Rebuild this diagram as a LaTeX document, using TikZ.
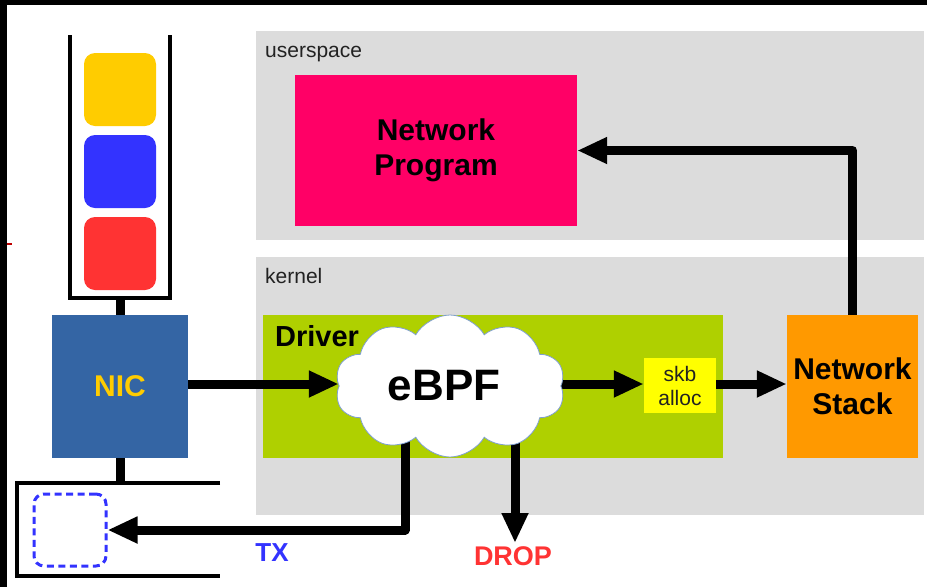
\documentclass[tikz,border=0pt]{standalone}
\usepackage{fontspec}
\setmainfont{Liberation Sans}
\usetikzlibrary{arrows.meta,shapes.symbols,calc}
\pgfdeclarelayer{panel}
\pgfdeclarelayer{wire}
\pgfsetlayers{panel,wire,main}

\definecolor{panelgray}{HTML}{DCDCDC}
\definecolor{drivergreen}{HTML}{AFD000}
\definecolor{progpink}{HTML}{FF0066}
\definecolor{stackorange}{HTML}{FF9900}
\definecolor{nicblue}{HTML}{3465A4}
\definecolor{nicyellow}{HTML}{FFCC00}
\definecolor{skbyellow}{HTML}{FFFF00}
\definecolor{pktyellow}{HTML}{FFCC00}
\definecolor{pktblue}{HTML}{3333FF}
\definecolor{pktred}{HTML}{FF3333}
\definecolor{cloudline}{HTML}{7F9FCF}
\definecolor{labelgray}{HTML}{222222}

\tikzset{
  block/.style={draw=none, inner sep=0pt, align=center},
  bigtext/.style={font=\fontsize{30}{35}\selectfont\bfseries},
  areatext/.style={font=\fontsize{21}{24}\selectfont, text=labelgray, anchor=base west, inner sep=0pt},
  flow/.style={line width=9pt, line join=round, -{Triangle[length=30pt,width=25pt]}},
  rail/.style={line width=4.5pt},
  stem/.style={line width=9pt},
  packet/.style={rounded corners=11pt},
}

\begin{document}
\begin{tikzpicture}[x=1pt,y=-1pt]
\useasboundingbox (0,0) rectangle (927,587);

% page, address-space panels and driver area
\begin{pgfonlayer}{panel}
  \fill[white] (0,0) rectangle (927,587);
  \fill[panelgray] (256,31) rectangle (924,240);
  \fill[panelgray] (256,257) rectangle (924,515);
  \fill[drivergreen] (263,315) rectangle (723,458);
\end{pgfonlayer}

% frame edges
\fill[black] (0,0) rectangle (927,5);
\fill[black] (0,0) rectangle (7,587);
\draw[red!75!black, line width=2pt] (7,244) -- (12,244);

\node[areatext] (ulabel) at (265,57) {userspace};
\node[areatext] (klabel) at (265,283) {kernel};
\node[font=\fontsize{29}{34}\selectfont\bfseries, anchor=base west, inner sep=0pt] (dlabel) at (275,346) {Driver};

% receive queue with packets
\draw[rail] (70,35) -- (70,298) -- (170,298) -- (170,35);
\fill[pktyellow, packet] (84,53) rectangle (156,126);
\fill[pktblue, packet] (84,135) rectangle (156,208);
\fill[pktred, packet] (84,217) rectangle (156,290);
\coordinate (rxq) at (120,298);

% transmit queue
\draw[rail] (220,483) -- (17,483) -- (17,576) -- (220,576);
\coordinate (txq) at (120,483);
\node[block, draw=pktblue, line width=3pt, dash pattern=on 7pt off 4.5pt, rounded corners=10pt,
      minimum width=72pt, minimum height=72pt] (txslot) at (70,530) {};

% main blocks
\node[block, fill=nicblue, minimum width=136pt, minimum height=143pt,
      bigtext, text=nicyellow] (nic) at (120,386.5) {NIC};
\node[block, fill=progpink, minimum width=282pt, minimum height=151pt,
      bigtext] (prog) at (436,150.5) {Network\\Program};
\node[block, fill=stackorange, minimum width=131pt, minimum height=143pt,
      bigtext] (stack) at (852.5,386.5) {Network\\Stack};
\node[block, fill=skbyellow, minimum width=72pt, minimum height=55pt,
      font=\fontsize{21}{24}\selectfont, text=labelgray] (skb) at (680,385.5) {skb\\alloc};
\node[cloud, cloud puffs=10, cloud puff arc=120, aspect=1.6, draw=cloudline, line width=0.8pt,
      fill=white, inner sep=0pt, minimum width=230pt, minimum height=142pt,
      font=\fontsize{44}{48}\selectfont\bfseries] (ebpf) at (450,386) {eBPF\hspace*{12pt}};

% end points of the verdict paths
\coordinate (txstart) at (405,430);
\coordinate (dropend) at (515,543);

% connectors
\begin{pgfonlayer}{wire}
  \draw[stem] (rxq) -- (nic.north);
  \draw[stem] (nic.south) -- (txq);
  \draw[flow] (nic.east |- 0,384) -- (ebpf.west |- 0,384);
  \draw[flow] (ebpf.east |- 0,384) -- (skb.west |- 0,384);
  \draw[flow] (skb.east |- 0,384) -- (stack.west |- 0,384);
  \draw[flow] (stack.north) |- (prog.east);
  \draw[flow] (txstart) |- (txslot.east);
  \draw[flow] (dropend |- ebpf.center) -- (dropend);
\end{pgfonlayer}

% verdict labels
\node[font=\fontsize{26}{30}\selectfont\bfseries, text=pktblue] (txlabel) at (272,553) {TX};
\node[font=\fontsize{27}{30}\selectfont\bfseries, text=pktred] (droplabel) at (513,556) {DROP};
\end{tikzpicture}
\end{document}
